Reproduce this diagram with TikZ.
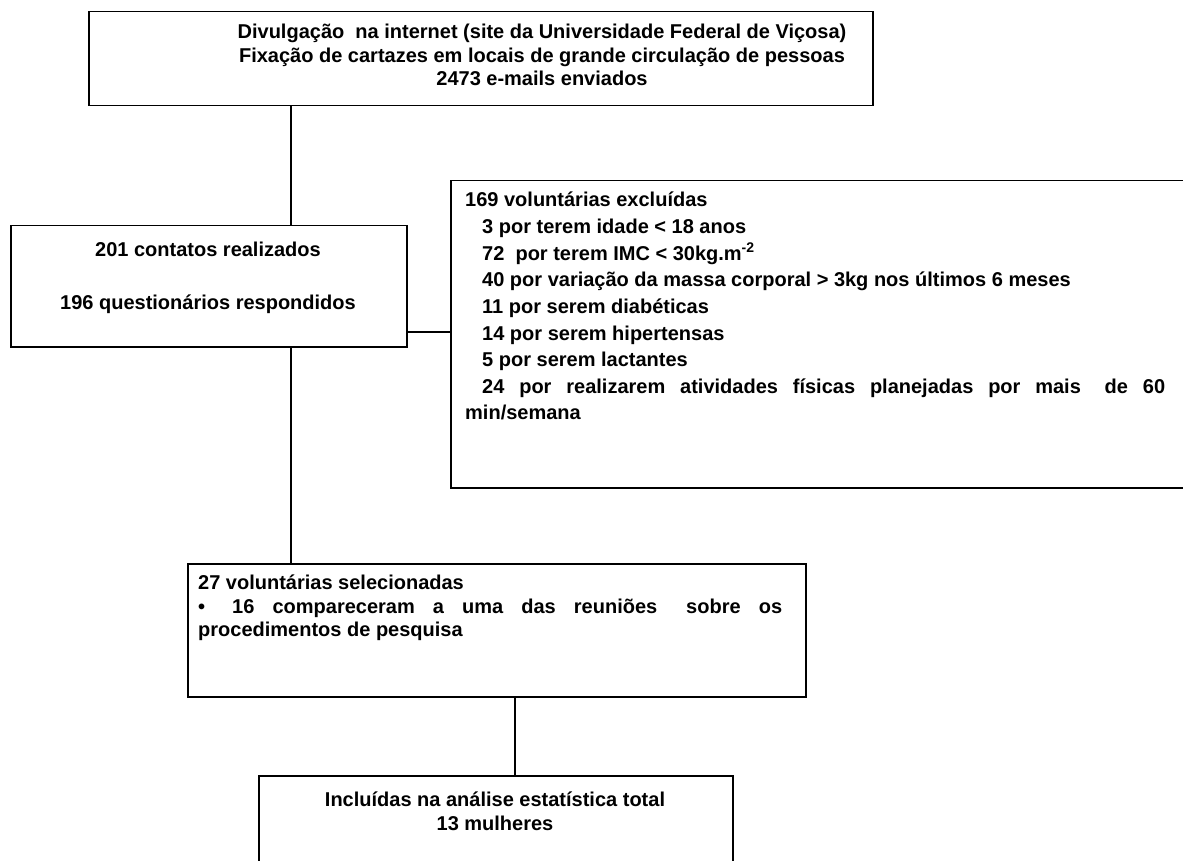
\documentclass[tikz,border=0pt]{standalone}
\usepackage{fontspec}
\setmainfont{Liberation Sans}
\newfontfamily\fB{Liberation Sans Bold}
\tikzset{
  boxnode/.style={draw=black, line width=1.5pt, rectangle, inner sep=0pt, anchor=north west},
  txt/.style={inner sep=0pt, text=black, font=\fontsize{20}{24}\selectfont\fB},
  ctxt/.style={txt, anchor=base},
  ltxt/.style={txt, anchor=base west},
  link/.style={draw=black, line width=1.5pt}
}
\begin{document}
\begin{tikzpicture}[x=1pt,y=-1pt]
\useasboundingbox (0,0) rectangle (1183,861);
\clip (0,0) rectangle (1183,861);
\fill[white] (0,0) rectangle (1183,861);

% boxes
\node[boxnode, minimum width=784pt, minimum height=94pt] (top) at (88,11) {};
\node[boxnode, minimum width=396pt, minimum height=121pt] (b2) at (10,225) {};
\node[boxnode, minimum width=800pt, minimum height=307pt] (rb) at (450,180) {};
\node[boxnode, minimum width=618pt, minimum height=133pt] (b3) at (187,563) {};
\node[boxnode, minimum width=474pt, minimum height=120pt] (b4) at (258,775) {};

% top box texts
\node[ctxt] (t1) at (542,39) {Divulgação\ \ na internet (site da Universidade Federal de Viçosa)};
\node[ctxt] (t2) at (542,62.3) {Fixação de cartazes em locais de grande circulação de pessoas};
\node[ctxt] (t3) at (542,85.6) {2473 e-mails enviados};

% box 2 texts
\node[ctxt] (m1) at (208,256) {201 contatos realizados};
\node[ctxt] (m2) at (208,309) {196 questionários respondidos};

% right box texts
\node[ltxt] (r1) at (465,207) {169 voluntárias excluídas};
\node[ltxt] (r2) at (482,233.6) {3 por terem idade < 18 anos};
\node[ltxt] (r3) at (482,260.2) {72\ \ por terem IMC < 30kg.m\textsuperscript{-2}};
\node[ltxt] (r4) at (482,286.8) {40 por variação da massa corporal > 3kg nos últimos 6 meses};
\node[ltxt] (r5) at (482,313.4) {11 por serem diabéticas};
\node[ltxt] (r6) at (482,340) {14 por serem hipertensas};
\node[ltxt] (r7) at (482,366.6) {5 por serem lactantes};
\node[ltxt] (r8) at (482,393.2) {\makebox[683pt][l]{24\hfill por\hfill realizarem\hfill atividades\hfill físicas\hfill planejadas\hfill por\hfill mais\hskip 0pt plus 1.6fill de\hfill 60}};
\node[ltxt] (r9) at (465,419.8) {min/semana};

% box 3 texts
\node[ltxt] (s1) at (198,589.5) {27 voluntárias selecionadas};
\node[ltxt] (s2) at (198,613) {\makebox[584pt][l]{\textbullet\hspace*{27pt}16\hfill compareceram\hfill a\hfill uma\hfill das\hfill reuniões\hskip 0pt plus 1.6fill sobre\hfill os}};
\node[ltxt] (s3) at (198,636.5) {procedimentos de pesquisa};

% box 4 texts
\node[ctxt] (f1) at (495,806) {Incluídas na análise estatística total};
\node[ctxt] (f2) at (495,830) {13 mulheres};

% connectors
\coordinate (xA) at (291,0);
\coordinate (yB) at (0,332);
\coordinate (xC) at (515,0);
\draw[link] (top.south -| xA) -- (b2.north -| xA);
\draw[link] (b2.east |- yB) -- (rb.west |- yB);
\draw[link] (b2.south -| xA) -- (b3.north -| xA);
\draw[link] (b3.south -| xC) -- (b4.north -| xC);
\end{tikzpicture}
\end{document}
